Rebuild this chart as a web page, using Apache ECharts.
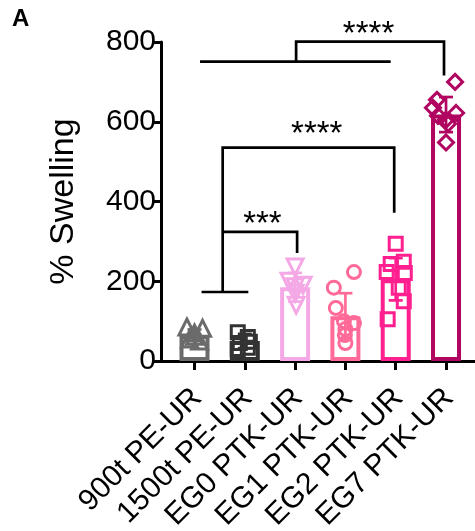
<!DOCTYPE html>
<html>
<head>
<meta charset="utf-8">
<script src="https://cdn.jsdelivr.net/npm/echarts@6/dist/echarts.min.js"></script>
<style>html,body{margin:0;padding:0;background:#fff;}#c{width:475px;height:531px;}</style>
</head>
<body>
<div id="c"></div>
<script>
// ---- data ----
const categories = ['900t PE-UR', '1500t PE-UR', 'EG0 PTK-UR', 'EG1 PTK-UR', 'EG2 PTK-UR', 'EG7 PTK-UR'];
const colors = ['#6b6b6b', '#333333', '#f4a9e6', '#ff6a98', '#ff1f8f', '#b00560'];
const means = [65, 50, 185, 112, 205, 618];
const sds = [14, 18, 36, 58, 53, 44];
const yTicks = [0, 200, 400, 600, 800];

// individual points (value) and their horizontal jitter (in category widths)
const pts900 = [85, 82, 70, 62, 55, 50];
const jit900 = [-0.15, 0.16, 0.0, 0.0, -0.1, 0.1];
const pts1500 = [72, 60, 48, 45, 33, 30];
const jit1500 = [-0.14, 0.06, 0.1, -0.1, 0.06, -0.14];
const ptsEG0 = [236, 200, 190, 186, 170, 140];
const jitEG0 = [0.0, -0.12, 0.16, 0.0, 0.0, 0.02];
const ptsEG1 = [223, 184, 133, 100, 95, 80, 65, 45];
const jitEG1 = [0.17, -0.23, -0.19, -0.03, 0.17, 0.0, -0.01, 0.0];
const ptsEG2 = [294, 249, 243, 223, 221, 184, 150, 105];
const jitEG2 = [0.0, 0.16, -0.1, -0.18, 0.18, 0.06, 0.16, -0.16];
const ptsEG7 = [700, 655, 635, 622, 615, 605, 595, 548];
const jitEG7 = [0.18, -0.18, -0.26, 0.2, -0.16, 0.0, 0.04, 0.0];

// significance brackets: [xLeft, xRight, yTop, yLeftEnd, yRightEnd] (x in category index units)
const brackets = [
  [2.02, 4.96, 801, 751, 716],
  [0.56, 3.97, 535, 173, 372],
  [0.56, 2.04, 324, 324, 271]
];
// group lines: [xFrom, xTo, y]
const groupLines = [
  [0.11, 3.9, 751],
  [0.14, 1.07, 173]
];
// bracket labels: [text, x, y]
const sigLabels = [
  ['****', 3.46, 817],
  ['****', 2.43, 568],
  ['***', 1.35, 342]
];

const FONT = 'Liberation Sans';
const groups = [
  [pts900, jit900, 'triangle', 0, 16],
  [pts1500, jit1500, 'rect', 0, 13],
  [ptsEG0, jitEG0, 'triangle', 180, 16],
  [ptsEG1, jitEG1, 'circle', 0, 13],
  [ptsEG2, jitEG2, 'rect', 0, 13],
  [ptsEG7, jitEG7, 'diamond', 0, 15]
];

const chart = echarts.init(document.getElementById('c'), null, {renderer: 'canvas'});

const series = [];
series.push({
  type: 'bar',
  barWidth: 30,
  z: 2,
  data: means.map((m, i) => ({
    value: [i, m],
    itemStyle: {color: 'rgba(255,255,255,0)', borderColor: colors[i], borderWidth: 4}
  }))
});
series.push({
  type: 'custom',
  z: 3,
  data: means.map((m, i) => [i, m, sds[i]]),
  renderItem: function (params, api) {
    const i = api.value(0);
    const m = api.value(1), s = api.value(2);
    const top = api.coord([i, m + s]);
    const bot = api.coord([i, m - s]);
    const c = colors[i];
    const st = {stroke: c, lineWidth: 2.7};
    return {
      type: 'group',
      children: [
        {type: 'line', shape: {x1: top[0], y1: top[1], x2: bot[0], y2: bot[1]}, style: st},
        {type: 'line', shape: {x1: top[0] - 7, y1: top[1], x2: top[0] + 7, y2: top[1]}, style: st},
        {type: 'line', shape: {x1: bot[0] - 7, y1: bot[1], x2: bot[0] + 7, y2: bot[1]}, style: st}
      ]
    };
  }
});
groups.forEach((g, i) => {
  series.push({
    type: 'scatter',
    z: 4,
    symbol: g[2],
    symbolRotate: g[3],
    symbolSize: g[4],
    itemStyle: {color: 'rgba(255,255,255,0)', borderColor: colors[i], borderWidth: 3, opacity: 1},
    data: g[0].map((v, k) => [i + g[1][k], v])
  });
});
series.push({
  type: 'custom',
  z: 5,
  data: brackets,
  renderItem: function (params, api) {
    const xl = api.value(0), xr = api.value(1), yt = api.value(2), yl = api.value(3), yr = api.value(4);
    const pts = [api.coord([xl, yl]), api.coord([xl, yt]), api.coord([xr, yt]), api.coord([xr, yr])];
    return {type: 'polyline', shape: {points: pts}, style: {stroke: '#000', lineWidth: 2.7, fill: null}};
  }
});
series.push({
  type: 'custom',
  z: 5,
  data: groupLines,
  renderItem: function (params, api) {
    const a = api.coord([api.value(0), api.value(2)]);
    const b = api.coord([api.value(1), api.value(2)]);
    return {type: 'line', shape: {x1: a[0], y1: a[1], x2: b[0], y2: b[1]}, style: {stroke: '#000', lineWidth: 2.7}};
  }
});
series.push({
  type: 'custom',
  z: 6,
  data: sigLabels.map(d => [d[1], d[2]]),
  renderItem: function (params, api) {
    const p = api.coord([api.value(0), api.value(1)]);
    return {
      type: 'text',
      x: p[0], y: p[1],
      style: {text: sigLabels[params.dataIndex][0], fill: '#000', fontSize: 33, fontFamily: FONT, align: 'center', verticalAlign: 'middle'}
    };
  }
});

chart.setOption({
  animation: false,
  backgroundColor: '#fff',
  title: {
    text: 'A', left: 12, top: 7, padding: 0,
    textStyle: {color: '#000', fontSize: 24, fontWeight: 'bold', fontFamily: FONT}
  },
  grid: {left: 161, right: 0, top: 42, bottom: 170, containLabel: false, outerBoundsMode: 'none'},
  xAxis: {
    type: 'value',
    min: -0.666, max: 5.576,
    axisLine: {show: true, onZero: false, lineStyle: {color: '#000', width: 3}},
    axisTick: {show: true, customValues: [0, 1, 2, 3, 4, 5], length: 9, lineStyle: {color: '#000', width: 3}},
    axisLabel: {
      show: true, customValues: [0, 1, 2, 3, 4, 5], rotate: 45, margin: 14, verticalAlign: 'top',
      padding: [0, 11, 0, 0],
      fontFamily: FONT, fontSize: 30, color: '#000',
      formatter: v => categories[Math.round(v)]
    },
    splitLine: {show: false}
  },
  yAxis: {
    type: 'value',
    min: 0, max: 800, interval: 200,
    name: '% Swelling', nameLocation: 'middle', nameGap: 80,
    nameTextStyle: {fontFamily: FONT, fontSize: 34, color: '#000'},
    axisLine: {show: true, onZero: false, lineStyle: {color: '#000', width: 3}},
    axisTick: {show: true, length: 9, lineStyle: {color: '#000', width: 3}},
    axisLabel: {fontFamily: FONT, fontSize: 30, color: '#000', margin: 5, formatter: v => yTicks.includes(v) ? String(v) : ''},
    splitLine: {show: false}
  },
  series: series
});
</script>
</body>
</html>
